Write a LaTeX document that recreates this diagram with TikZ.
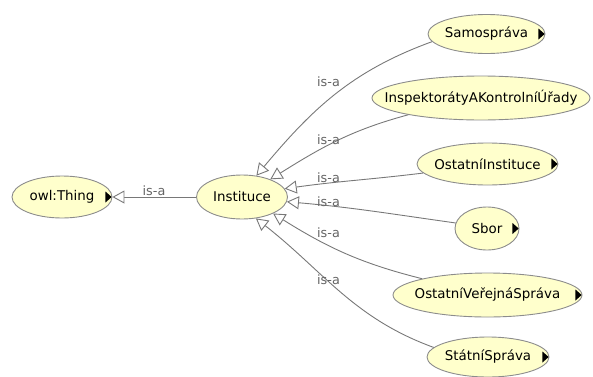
\documentclass[tikz,border=0pt]{standalone}
\usepackage{fontspec}
\setmainfont{DejaVu Sans}
\usetikzlibrary{shapes.geometric,arrows.meta}
\definecolor{nodefill}{RGB}{255,255,204}
\definecolor{nodeline}{RGB}{140,140,140}
\definecolor{edgecol}{RGB}{120,120,120}
\definecolor{lblcol}{RGB}{100,100,100}
\tikzset{
  cls/.style={ellipse, draw=nodeline, line width=0.9pt, fill=nodefill, inner ysep=0pt, inner xsep=-40pt,
    minimum height=42pt, font=\fontsize{13.4}{15}\selectfont, text=black},
  edge/.style={draw=edgecol, line width=0.9pt,
    -{Triangle[length=12pt,width=13pt,fill=white,line width=0.9pt]}},
  lbl/.style={font=\fontsize{12.8}{14}\selectfont, text=lblcol, inner sep=0pt}
}
\newcommand\kidtri[1]{\fill[black] ([xshift=-7pt,yshift=5.5pt]#1.east) -- ([xshift=-7pt,yshift=-5.5pt]#1.east) -- ([xshift=-0.8pt]#1.east) -- cycle;}
\begin{document}
\begin{tikzpicture}[x=1pt,y=1pt]
\useasboundingbox (0,0) rectangle (593,376);
% nodes
\node[cls, minimum width=100pt] (thing) at (62,179) {owl:Thing};
\node[cls, minimum width=91pt, minimum height=44pt] (inst) at (242,179) {Instituce};
\node[cls, minimum width=117pt, minimum height=39pt] (sam) at (486.5,342) {Samospráva};
\node[cls, minimum width=218pt, minimum height=44pt] (insp) at (481,278) {InspektorátyAKontrolníÚřady};
\node[cls, minimum width=141pt] (oi) at (487.5,212) {OstatníInstituce};
\node[cls, minimum width=64pt, minimum height=43pt] (sbor) at (487,147.5) {Sbor};
\node[cls, minimum width=189pt, minimum height=44pt] (ovs) at (487.5,81) {OstatníVeřejnáSpráva};
\node[cls, minimum width=122pt, minimum height=40pt] (ss) at (488,19) {StátníSpráva};
% expand triangles
\kidtri{thing}
\kidtri{sam}
\kidtri{oi}
\kidtri{sbor}
\kidtri{ovs}
\kidtri{ss}
% edges
\draw[edge] (inst) -- (thing);
\draw[edge] (sam.188) to[out=200,in=50] (inst.56);
\draw[edge] (insp.193) to[out=195,in=32] (inst.32);
\draw[edge] (oi.188) to[out=187,in=8] (inst.11);
\draw[edge] (sbor.170) to[out=172,in=-5] (inst.-6);
\draw[edge] (ovs.166) to[out=166,in=-32] (inst.-28);
\draw[edge] (ss.170) to[out=160,in=-38] (inst.-57);
% labels
\node[lbl] (l0) at (154,185) {is-a};
\node[lbl] (l1) at (328.5,294) {is-a};
\node[lbl] (l2) at (328.5,236) {is-a};
\node[lbl] (l3) at (328.5,198) {is-a};
\node[lbl] (l4) at (328.5,174) {is-a};
\node[lbl] (l5) at (328.5,143) {is-a};
\node[lbl] (l6) at (328.5,96) {is-a};
\end{tikzpicture}
\end{document}
